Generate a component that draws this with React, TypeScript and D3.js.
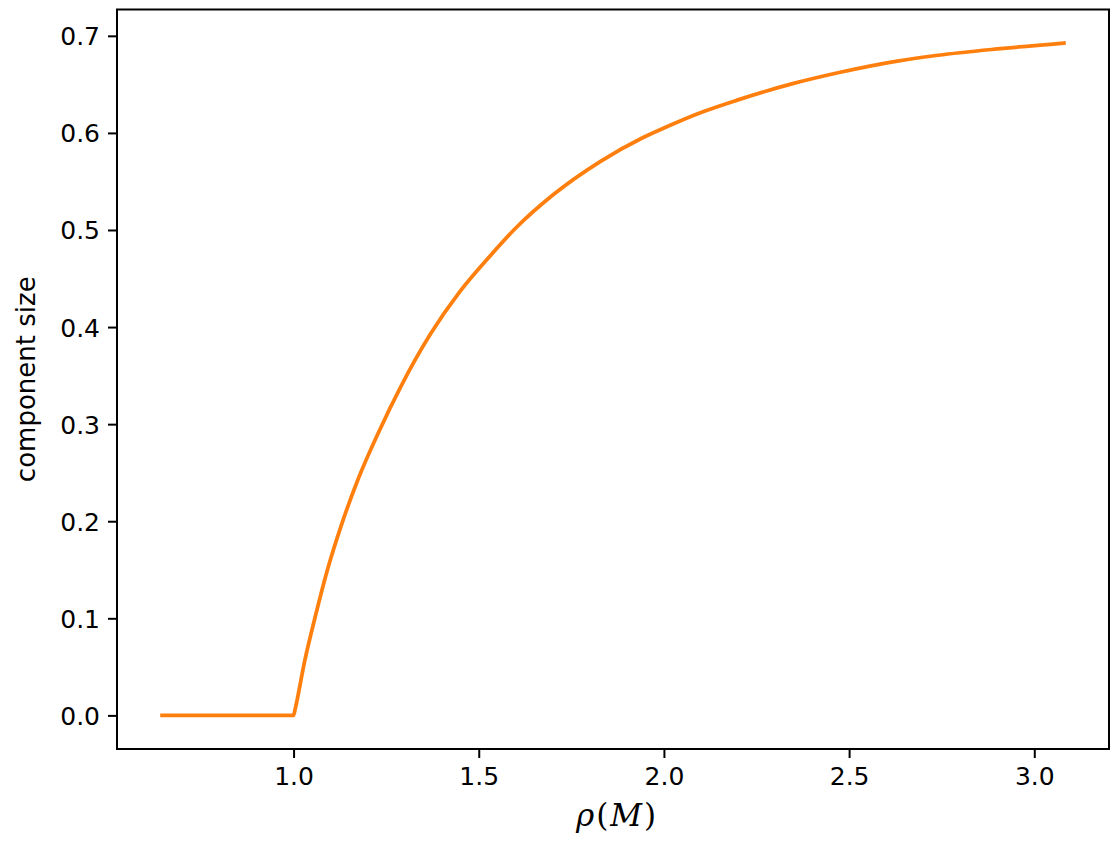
import { useEffect, useRef } from 'react'
import * as d3 from 'd3'

// values
const rhoValues = [
  0.645, 0.8, 1.0, 1.004, 1.03, 1.06, 1.09, 1.13, 1.175, 1.23, 1.29, 1.37, 1.45, 1.53, 1.6, 1.7,
  1.83, 1.94, 2.0, 2.1, 2.2, 2.35, 2.47, 2.63, 2.74, 2.9, 3.08,
]
const sizeValues = [
  0, 0, 0, 0.006, 0.056, 0.104, 0.148, 0.197, 0.244, 0.292, 0.339, 0.393, 0.437, 0.473, 0.502,
  0.536, 0.571, 0.5945, 0.605, 0.621, 0.634, 0.651, 0.662, 0.674, 0.68, 0.6865, 0.6925,
]
const xTicks = [1.0, 1.5, 2.0, 2.5, 3.0]
const yTicks = [0, 0.1, 0.2, 0.3, 0.4, 0.5, 0.6, 0.7]

const App = () => {
  const svgRef = useRef(null)

  useEffect(() => {
    const width = 1118
    const height = 844
    const margin = { top: 9.5, right: 9, bottom: 95, left: 117 }

    const svg = d3.select(svgRef.current)
    svg.selectAll('*').remove()
    svg.attr('width', width).attr('height', height)

    const data = rhoValues.map((r, i) => ({ x: r, y: sizeValues[i] }))

    // matplotlib-style 5% padding around the data
    const [x0, x1] = d3.extent(rhoValues)
    const [y0, y1] = d3.extent(sizeValues)
    const px = (x1 - x0) * 0.05
    const py = (y1 - y0) * 0.05

    const x = d3
      .scaleLinear()
      .domain([x0 - px, x1 + px])
      .range([margin.left, width - margin.right])
    const y = d3
      .scaleLinear()
      .domain([y0 - py, y1 + py])
      .range([height - margin.bottom, margin.top])

    const font = 'DejaVu Sans, sans-serif'

    // curve
    const line = d3
      .line()
      .x((d) => x(d.x))
      .y((d) => y(d.y))
      .curve(d3.curveMonotoneX)

    svg
      .append('path')
      .datum(data)
      .attr('d', line)
      .attr('fill', 'none')
      .attr('stroke', '#ff7f0e')
      .attr('stroke-width', 3.75)
      .attr('stroke-linecap', 'square')

    // axes
    const xAxis = d3
      .axisBottom(x)
      .tickValues(xTicks)
      .tickFormat(d3.format('.1f'))
      .tickSize(9)
      .tickPadding(8)
    const yAxis = d3
      .axisLeft(y)
      .tickValues(yTicks)
      .tickFormat(d3.format('.1f'))
      .tickSize(9)
      .tickPadding(8)

    const gx = svg
      .append('g')
      .attr('transform', `translate(0,${height - margin.bottom})`)
      .call(xAxis)
    const gy = svg.append('g').attr('transform', `translate(${margin.left},0)`).call(yAxis)

    for (const g of [gx, gy]) {
      g.select('.domain').remove()
      g.selectAll('line').attr('stroke', 'black').attr('stroke-width', 2)
      g.selectAll('text')
        .attr('fill', 'black')
        .style('font-family', font)
        .style('font-size', '25px')
    }
    gx.selectAll('text').attr('dy', '0.76em')
    gy.selectAll('text').attr('dy', '0.36em')

    // frame
    svg
      .append('rect')
      .attr('x', margin.left)
      .attr('y', margin.top)
      .attr('width', width - margin.left - margin.right)
      .attr('height', height - margin.top - margin.bottom)
      .attr('fill', 'none')
      .attr('stroke', 'black')
      .attr('stroke-width', 2)

    // labels
    const xl = svg
      .append('text')
      .attr('x', (margin.left + width - margin.right) / 2 + 4)
      .attr('y', 826)
      .attr('text-anchor', 'middle')
      .style('font-family', 'DejaVu Serif, serif')
      .style('font-size', '31px')
      .style('letter-spacing', '2px')
      .attr('fill', 'black')
    xl.append('tspan').style('font-style', 'italic').text('ρ')
    xl.append('tspan').text('(')
    xl.append('tspan').style('font-style', 'italic').text('M')
    xl.append('tspan').text(')')

    svg
      .append('text')
      .attr('transform', 'rotate(-90)')
      .attr('x', -(margin.top + height - margin.bottom) / 2)
      .attr('y', 35)
      .attr('text-anchor', 'middle')
      .style('font-family', font)
      .style('font-size', '26px')
      .attr('fill', 'black')
      .text('component size')
  }, [])

  return (
    <svg
      ref={svgRef}
      style={{ position: 'absolute', left: 0, top: 0, background: 'white' }}
    ></svg>
  )
}

export default App
